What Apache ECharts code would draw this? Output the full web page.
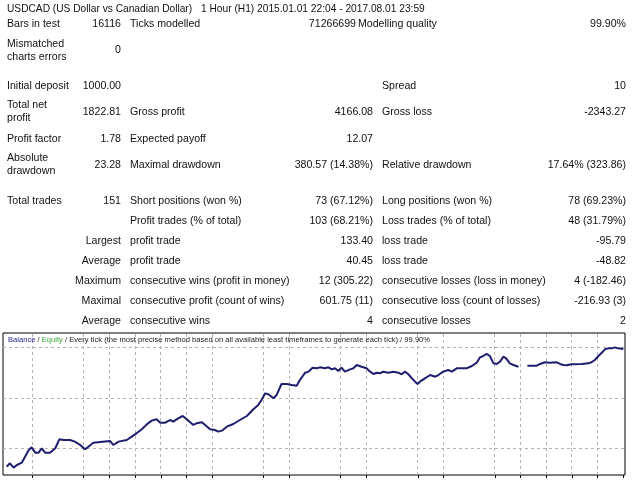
<!DOCTYPE html>
<html>
<head>
<meta charset="utf-8">
<script src="https://cdn.jsdelivr.net/npm/echarts@6/dist/echarts.min.js"></script>
<style>
html,body{margin:0;padding:0;background:#fff;}
#c{width:640px;height:480px;}
</style>
</head>
<body>
<div id="c"></div>
<script>
// ---- report text ----
const headerParts = ["USDCAD (US Dollar vs Canadian Dollar)", "1 Hour (H1) 2015.01.01 22:04 - 2017.08.01 23:59"];
const col1 = ["Bars in test", "Mismatched\ncharts errors", "Initial deposit", "Total net\nprofit", "Profit factor", "Absolute\ndrawdown", "Total trades", "", "Largest", "Average", "Maximum", "Maximal", "Average"];
const col2 = ["16116", "0", "1000.00", "1822.81", "1.78", "23.28", "151", "", "", "", "", "", ""];
const col3 = ["Ticks modelled", "", "", "Gross profit", "Expected payoff", "Maximal drawdown", "Short positions (won %)", "Profit trades (% of total)", "profit trade", "profit trade", "consecutive wins (profit in money)", "consecutive profit (count of wins)", "consecutive wins"];
const col4 = ["71266699", "", "", "4166.08", "12.07", "380.57 (14.38%)", "73 (67.12%)", "103 (68.21%)", "133.40", "40.45", "12 (305.22)", "601.75 (11)", "4"];
const col5 = ["Modelling quality", "", "Spread", "Gross loss", "", "Relative drawdown", "Long positions (won %)", "Loss trades (% of total)", "loss trade", "loss trade", "consecutive losses (loss in money)", "consecutive loss (count of losses)", "consecutive losses"];
const col6 = ["99.90%", "", "10", "-2343.27", "", "17.64% (323.86)", "78 (69.23%)", "48 (31.79%)", "-95.79", "-48.82", "4 (-182.46)", "-216.93 (3)", "2"];
const chartCaption = ["Balance", "Equity", "Every tick (the most precise method based on all available least timeframes to generate each tick)", "99.90%"];

// ---- balance curve (trade number, balance) ----
const trades = [0,0.8,1.7,2.5,3.7,4.5,5.3,6.1,7.0,7.8,
 8.6,9.4,10.6,11.9,12.9,13.9,15.5,16.7,18.0,19.2,
 20.0,21.2,22.9,25.3,26.1,27.4,29.4,30.6,31.8,33.1,
 34.3,35.5,36.7,37.6,38.8,40.0,40.8,42.0,43.1,44.1,
 45.7,46.5,47.8,48.6,49.8,51.0,51.8,52.7,53.9,55.5,
 57.1,58.8,60.4,61.6,62.4,63.3,64.1,65.3,66.1,67.3,
 68.6,69.8,71.0,71.8,73.1,73.9,74.9,75.9,76.7,77.9,
 78.8,79.6,80.4,81.2,82.0,82.8,84.1,84.9,85.7,86.9,
 88.1,89.0,89.8,90.6,91.4,92.2,93.5,94.7,95.9,96.7,
 97.5,98.3,99.2,100.0,100.6,101.2,102.4,103.7,104.9,105.7,
 106.9,108.1,109.0,110.2,112.6,113.9,115.1,115.9,116.7,117.5,
 118.3,119.2,120.0,120.8,121.6,122.3,123.2,124.1,125.3,126.4,
 127.5,128.5,129.8,130.6,131.8,133.0,134.7,135.5,136.3,137.1,
 138.3,140.8,142.4,143.2,144.0,144.9,145.7,146.5,147.3,148.1,
 148.9,149.7,151];
const balance = [1000,1052,985,1026,1062,1155,1248,1300,1217,1217,
 1285,1217,1217,1285,1424,1413,1413,1388,1336,1269,
 1310,1372,1383,1398,1336,1388,1413,1465,1517,1579,
 1656,1713,1734,1682,1682,1723,1697,1749,1785,1734,
 1646,1672,1687,1646,1579,1568,1543,1558,1620,1661,
 1723,1785,1889,1956,2033,2136,2121,2059,2111,2281,
 2281,2265,2255,2343,2456,2472,2534,2524,2539,2524,
 2539,2508,2524,2482,2534,2472,2508,2524,2575,2549,
 2524,2472,2436,2456,2446,2472,2456,2472,2456,2431,
 2472,2436,2369,2317,2281,2317,2369,2420,2394,2420,
 2472,2498,2472,2524,2524,2560,2611,2694,2715,2746,
 2715,2601,2591,2627,2704,2678,2601,2575,2549,null,
 2565,2565,2565,2591,2617,2611,2617,2591,2575,2570,
 2586,2591,2601,2617,2653,2715,2766,2818,2833,2833,
 2849,2833,2822.81];

// grid division labels (not displayed)
const divisionLabels = ['0','1','2','3','4','5','6','7','8','9','10','11','12','13','14','15','16','17','18','19','20','21','22','23','24'];
const levelLabels = ['1', '2', '3'];

// ---- layout (styling only) ----
const rowY = [24, 50.5, 86, 112, 139, 165, 201, 221.5, 241.5, 261.5, 281, 301, 321];
const FAMILY = '"Liberation Sans", Arial, sans-serif';
const FONT = '10.6px ' + FAMILY;
const HFONT = '10.2px ' + FAMILY;
const TXT = '#111';
const Y_MIN = 871, Y_MAX = 3071, X_MIN = -0.9, X_MAX = 151.4;
const gridBalance = [1285, 2059, 2843];
const shownDivisions = [1,3,4,5,6,7,8,10,11,13,14,16,17,19,20,21,22,23];
const tickDivisions = shownDivisions.concat([24]);
const gridTrades = shownDivisions.map(k => k * 151 / 24);

function txt(s, x, y, align, font) {
  return {
    type: 'text', x: x, y: y, silent: true,
    style: { text: s, font: font || FONT, fill: TXT, textAlign: align, textVerticalAlign: 'middle',
             align: align, verticalAlign: 'middle', lineHeight: 13 }
  };
}
const g = [];
g.push(txt(headerParts[0], 7, 9, 'left', HFONT));
g.push(txt(headerParts[1], 201, 9, 'left', HFONT));
rowY.forEach((y, i) => {
  if (col1[i]) g.push(txt(col1[i], i < 7 ? 7 : 121, y, i < 7 ? 'left' : 'right'));
  if (col2[i]) g.push(txt(col2[i], 121, y, 'right'));
  if (col3[i]) g.push(txt(col3[i], 130, y, 'left'));
  if (col4[i]) g.push(txt(col4[i], i === 0 ? 356 : 373, y, 'right'));
  if (col5[i]) g.push(txt(col5[i], i === 0 ? 358 : 382, y, 'left'));
  if (col6[i]) g.push(txt(col6[i], 626, y, 'right'));
});

const data = trades.map((t, i) => [t, balance[i]]);
const dash = { color: '#b4b4b4', width: 1, type: [3, 3] };

function gridSeries(points) {
  return { type: 'line', xAxisIndex: 0, yAxisIndex: 0, data: points, z: 1, silent: true, clip: false,
           showSymbol: false, symbol: 'none', lineStyle: dash, itemStyle: { color: dash.color } };
}
function buildGridSeries(hVals, vVals) {
  return hVals.map(v => gridSeries([[X_MIN, v], [X_MAX, v]]))
    .concat(vVals.map(v => gridSeries([[v, Y_MIN], [v, Y_MAX]])));
}
const balanceSeries = {
  type: 'line', xAxisIndex: 0, yAxisIndex: 0, data: data, z: 5, showSymbol: false, connectNulls: false, silent: true,
  lineStyle: { color: '#1e1e6e', width: 2 }, itemStyle: { color: '#1e1e6e' }
};

const chart = echarts.init(document.getElementById('c'));
chart.setOption({
  animation: false,
  backgroundColor: '#fff',
  title: {
    left: 8, top: 336, padding: 0,
    text: '{a|' + chartCaption[0] + '} / {b|' + chartCaption[1] + '} / ' + chartCaption[2] + ' / ' + chartCaption[3],
    textStyle: {
      fontSize: 7.6, fontWeight: 'normal', color: '#222', fontFamily: FAMILY,
      rich: {
        a: { color: '#1e1e8c', fontSize: 7.6, fontFamily: FAMILY },
        b: { color: '#3aa83a', fontSize: 7.6, fontFamily: FAMILY }
      }
    }
  },
  grid: [
    { left: 3, right: 15, top: 333, bottom: 5, show: true, borderColor: '#000', borderWidth: 1 },
    { left: 6.6, right: 16.6, top: 333, bottom: 5 },
    { left: 3, right: 15, top: 347.7, bottom: 31.7 }
  ],
  xAxis: [
    { gridIndex: 0, type: 'value', min: X_MIN, max: X_MAX, show: false },
    { gridIndex: 1, type: 'category', data: divisionLabels, boundaryGap: false,
      axisLine: { show: false }, axisLabel: { show: false }, splitLine: { show: false },
      axisTick: { show: true, length: 3, inside: false, lineStyle: { color: '#000' }, interval: (i) => tickDivisions.includes(i) } },
    { gridIndex: 2, type: 'value', show: false }
  ],
  yAxis: [
    { gridIndex: 0, type: 'value', min: Y_MIN, max: Y_MAX, show: false },
    { gridIndex: 1, type: 'value', show: false },
    { gridIndex: 2, type: 'category', data: levelLabels, boundaryGap: false, position: 'right',
      axisLine: { show: false }, axisLabel: { show: false }, splitLine: { show: false },
      axisTick: { show: true, length: 3, inside: false, lineStyle: { color: '#000' } } }
  ],
  graphic: g,
  series: buildGridSeries(gridBalance, gridTrades).concat([balanceSeries])
});

// snap dashed grid lines to pixel centres so they render crisp
const snapH = gridBalance.map(v => {
  const py = chart.convertToPixel({ gridIndex: 0 }, [0, v])[1];
  return chart.convertFromPixel({ gridIndex: 0 }, [0, Math.floor(py) + 0.5])[1];
});
const snapV = gridTrades.map(v => {
  const px = chart.convertToPixel({ gridIndex: 0 }, [v, 2000])[0];
  return chart.convertFromPixel({ gridIndex: 0 }, [Math.floor(px) + 0.5, 0])[0];
});
chart.setOption({ series: buildGridSeries(snapH, snapV).concat([balanceSeries]) }, { replaceMerge: ['series'] });
</script>
</body>
</html>
